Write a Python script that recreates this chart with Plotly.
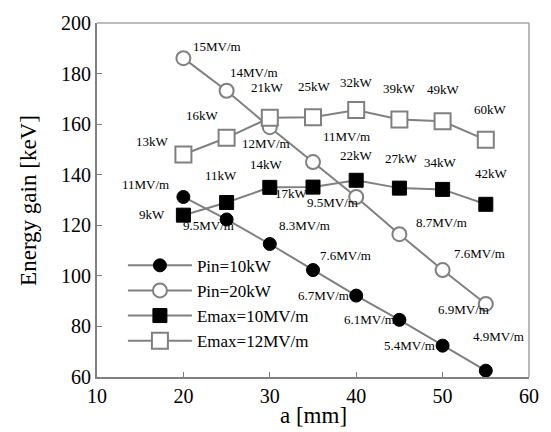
import plotly.graph_objects as go

a_mm = [20, 25, 30, 35, 40, 45, 50, 55]

pin10 = [131.2, 122.3, 112.6, 102.3, 92.2, 82.6, 72.4, 62.5]
pin20 = [186.1, 173.2, 158.8, 145.0, 131.2, 116.5, 102.3, 88.9]
emax10 = [124.0, 129.0, 135.0, 135.1, 137.8, 134.7, 134.2, 128.3]
emax12 = [148.0, 154.6, 162.5, 162.7, 165.6, 161.8, 161.1, 153.8]

pin10_labels = ["11MV/m", "9.5MV/m", "8.3MV/m", "7.6MV/m", "6.7MV/m", "6.1MV/m", "5.4MV/m", "4.9MV/m"]
pin20_labels = ["15MV/m", "14MV/m", "12MV/m", "11MV/m", "9.5MV/m", "8.7MV/m", "7.6MV/m", "6.9MV/m"]
emax10_labels = ["9kW", "11kW", "14kW", "17kW", "22kW", "27kW", "34kW", "42kW"]
emax12_labels = ["13kW", "16kW", "21kW", "25kW", "32kW", "39kW", "49kW", "60kW"]

x_ticks = [10, 20, 30, 40, 50, 60]
y_ticks = [60, 80, 100, 120, 140, 160, 180, 200]

# label offsets in pixels (dx right, dy down)
pin10_off = [(-38, -12), (-18, 6), (35, -19), (32, -15), (-33, 0), (-30, 0), (-33, 0), (13, -34)]
pin20_off = [(34, -12), (27, -18), (-4, 16), (33, -26), (-24, 6), (42, -12), (37, -17), (-22, 6)]
emax10_off = [(-31, -1), (-6, -27), (-3, -23), (-22, 6), (0, -25), (2, -30), (-2, -27), (6, -31)]
emax12_off = [(-31, -13), (-24, -22), (-2, -30), (1, -31), (0, -27), (0, -31), (1, -32), (5, -30)]

LINE = "#808080"
FONT = "Liberation Serif"

fig = go.Figure()
fig.add_trace(go.Scatter(x=a_mm, y=pin10, name="Pin=10kW", mode="lines+markers",
                         line=dict(color=LINE, width=2),
                         marker=dict(symbol="circle", size=13, color="black", line=dict(color="black", width=1))))
fig.add_trace(go.Scatter(x=a_mm, y=pin20, name="Pin=20kW", mode="lines+markers",
                         line=dict(color=LINE, width=2),
                         marker=dict(symbol="circle", size=14, color="white", line=dict(color=LINE, width=2))))
fig.add_trace(go.Scatter(x=a_mm, y=emax10, name="Emax=10MV/m", mode="lines+markers",
                         line=dict(color=LINE, width=2),
                         marker=dict(symbol="square", size=14, color="black", line=dict(color="black", width=1))))
fig.add_trace(go.Scatter(x=a_mm, y=emax12, name="Emax=12MV/m", mode="lines+markers",
                         line=dict(color=LINE, width=2),
                         marker=dict(symbol="square", size=16, color="white", line=dict(color=LINE, width=2))))

annotations = []
for ys, labels, offs in [(pin10, pin10_labels, pin10_off), (pin20, pin20_labels, pin20_off),
                         (emax10, emax10_labels, emax10_off), (emax12, emax12_labels, emax12_off)]:
    for xv, yv, t, (dx, dy) in zip(a_mm, ys, labels, offs):
        annotations.append(dict(x=xv, y=yv, text=t, showarrow=False, xshift=dx, yshift=-dy,
                                font=dict(family=FONT, size=13, color="black")))

annotations.append(dict(text="a [mm]", xref="paper", yref="paper", x=0.5, y=-0.11,
                        xanchor="center", yanchor="middle", showarrow=False,
                        font=dict(family=FONT, size=23, color="black")))
annotations.append(dict(text="Energy gain [keV]", xref="paper", yref="paper", x=-0.16, y=0.5,
                        xanchor="center", yanchor="middle", showarrow=False, textangle=-90,
                        font=dict(family=FONT, size=23, color="black")))

fig.update_layout(
    width=551, height=432,
    margin=dict(l=97, r=17, t=22, b=54.5),
    paper_bgcolor="white", plot_bgcolor="white",
    font=dict(family=FONT, color="black"),
    annotations=annotations,
    showlegend=True,
    legend=dict(x=0.06, y=0.365, xanchor="left", yanchor="top", bgcolor="rgba(0,0,0,0)",
                font=dict(family=FONT, size=17, color="black"), itemwidth=64,
                tracegroupgap=0),
    shapes=[
        dict(type="line", xref="paper", yref="paper", x0=0, x1=1, y0=1, y1=1,
             line=dict(color="#bdbdbd", width=2)),
        dict(type="line", xref="paper", yref="paper", x0=1, x1=1, y0=0, y1=1,
             line=dict(color="#a0a0a0", width=1.5)),
    ],
)
fig.update_xaxes(range=[10, 60], tickvals=x_ticks, ticks="inside", ticklen=5, tickcolor=LINE,
                 showline=True, linecolor=LINE, linewidth=2, showgrid=False, zeroline=False,
                 tickfont=dict(family=FONT, size=20, color="black"))
fig.update_yaxes(range=[60, 200], tickvals=y_ticks, ticks="inside", ticklen=5, tickcolor=LINE,
                 showline=True, linecolor=LINE, linewidth=2, showgrid=False, zeroline=False,
                 tickfont=dict(family=FONT, size=20, color="black"))

fig.write_html("out.html")
